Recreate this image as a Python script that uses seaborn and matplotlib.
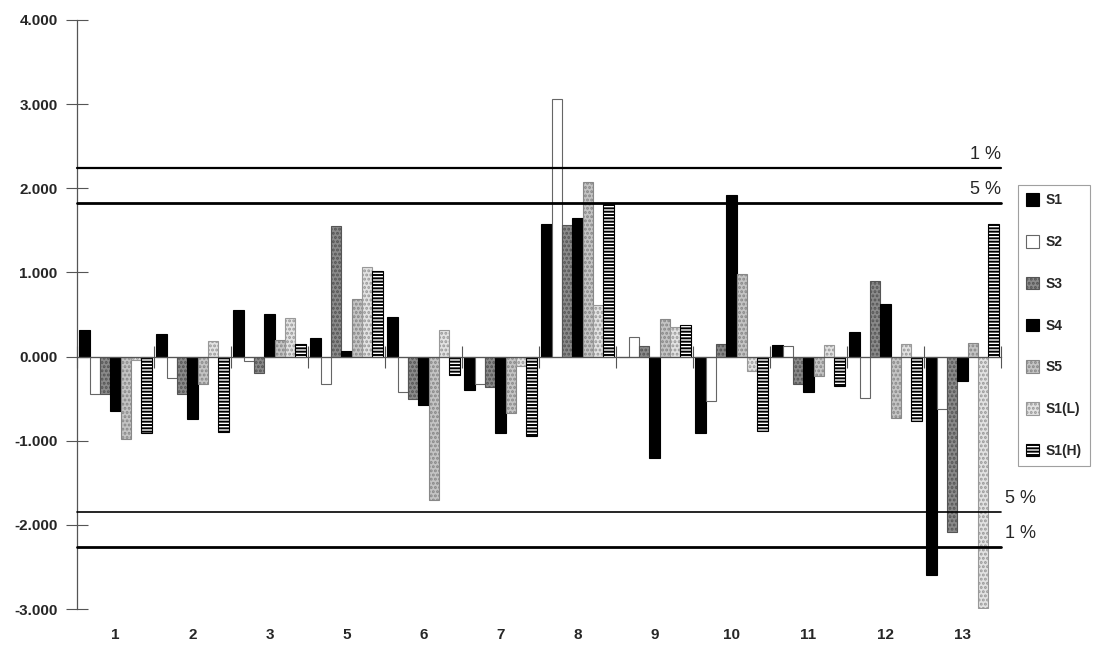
import numpy as np
import pandas as pd
import matplotlib
matplotlib.use('Agg')
import matplotlib.pyplot as plt
from matplotlib.patches import Patch
import seaborn as sns

# категории (группы) и ряды
groups = ['1', '2', '3', '5', '6', '7', '8', '9', '10', '11', '12', '13']
series = ['S1', 'S2', 'S3', 'S4', 'S5', 'S1(L)', 'S1(H)']

s1 = [0.31, 0.27, 0.55, 0.22, 0.47, -0.40, 1.57, 0.00, -0.91, 0.14, 0.29, -2.59]
s2 = [-0.44, -0.25, -0.05, -0.33, -0.42, -0.33, 3.06, 0.23, -0.53, 0.13, -0.49, -0.62]
s3 = [-0.45, -0.44, -0.19, 1.55, -0.50, -0.36, 1.56, 0.13, 0.15, -0.33, 0.90, -2.09]
s4 = [-0.65, -0.74, 0.51, 0.07, -0.58, -0.91, 1.65, -1.21, 1.92, -0.42, 0.63, -0.29]
s5 = [-0.98, -0.33, 0.20, 0.69, -1.70, -0.67, 2.08, 0.45, 0.98, -0.23, -0.73, 0.16]
s1_l = [-0.04, 0.18, 0.46, 1.06, 0.32, -0.11, 0.61, 0.35, -0.17, 0.14, 0.15, -2.99]
s1_h = [-0.91, -0.90, 0.15, 1.02, -0.22, -0.94, 1.81, 0.38, -0.89, -0.35, -0.77, 1.57]

# уровни значимости
upper_1, upper_5 = 2.24, 1.83
lower_5, lower_1 = -1.85, -2.26

values = [s1, s2, s3, s4, s5, s1_l, s1_h]
df = pd.DataFrame({
    'group': np.tile(groups, len(series)),
    'series': np.repeat(series, len(groups)),
    'value': np.concatenate(values),
})

face = ['#000000', '#ffffff', '#8a8a8a', '#000000', '#c4c4c4', '#e2e2e2', '#ffffff']
edge = ['#000000', '#666666', '#555555', '#000000', '#888888', '#999999', '#000000']
hatch = [None, None, '....', None, '....', '....', '-----']

sns.set_style('white')
plt.rcParams['font.family'] = ['Liberation Sans', 'DejaVu Sans']
plt.rcParams['hatch.linewidth'] = 1.4

fig = plt.figure(figsize=(10.97, 6.49), dpi=100)
ax = fig.add_axes([0.0702, 0.0616, 0.9125 - 0.0702, 0.9692 - 0.0616])

sns.barplot(data=df, x='group', y='value', hue='series', order=groups,
            hue_order=series, palette=face, saturation=1, width=0.94,
            gap=0, errorbar=None, legend=False, ax=ax)

for cont, fc, ec, h in zip(ax.containers, face, edge, hatch):
    for bar in cont:
        bar.set_facecolor(fc)
        bar.set_edgecolor(ec)
        bar.set_linewidth(0.8)
        if h:
            bar.set_hatch(h)

ax.set_ylim(-3, 4)
ax.set_xlim(-0.5, len(groups) - 0.5)
ax.set_xlabel('')
ax.set_ylabel('')

# линии уровней значимости
for y, lw in [(upper_1, 1.6), (upper_5, 2.0), (lower_5, 1.2), (lower_1, 2.0)]:
    ax.axhline(y, color='black', lw=lw, clip_on=False, zorder=5)

ax.text(len(groups) - 0.5, upper_1 + 0.06, '1 %', ha='right', va='bottom', fontsize=13)
ax.text(len(groups) - 0.5, upper_5 + 0.06, '5 %', ha='right', va='bottom', fontsize=13)
ax.text(len(groups) - 0.45, lower_5 + 0.06, '5 %', ha='left', va='bottom', fontsize=13)
ax.text(len(groups) - 0.45, lower_1 + 0.06, '1 %', ha='left', va='bottom', fontsize=13)

# оси
for side in ['top', 'right']:
    ax.spines[side].set_visible(False)
ax.spines['left'].set_color('#555555')
ax.spines['left'].set_linewidth(0.9)
ax.spines['bottom'].set_position(('data', 0))
ax.spines['bottom'].set_color('#555555')
ax.spines['bottom'].set_linewidth(0.9)

ax.set_yticks(np.arange(-3, 5, 1))
ax.set_yticklabels([f'{v:.3f}' for v in np.arange(-3, 5, 1)], fontsize=11,
                   fontweight='bold')
ax.tick_params(axis='y', left=True, direction='inout', length=16, width=0.8,
               color='#555555', pad=6)

ax.set_xticks(np.arange(-0.5, len(groups), 1))
ax.set_xticklabels([''] * (len(groups) + 1))
ax.tick_params(axis='x', bottom=True, direction='inout', length=16, width=0.8,
               color='#555555')

sec = ax.secondary_xaxis('bottom')
sec.set_xticks(range(len(groups)), labels=groups)
sec.tick_params(bottom=False, length=0, pad=14, labelsize=11)
for lab in sec.get_xticklabels():
    lab.set_fontweight('bold')
sec.spines['bottom'].set_visible(False)

# легенда
handles = [Patch(facecolor=fc, edgecolor=ec, hatch=h, linewidth=0.8)
           for fc, ec, h in zip(face, edge, hatch)]
leg = fig.legend(handles, series, loc='upper left', bbox_to_anchor=(0.928, 0.715),
                 borderaxespad=0, frameon=True, fancybox=False, edgecolor='#888888',
                 handlelength=0.9, handleheight=1.0, handletextpad=0.45,
                 labelspacing=2.0, borderpad=0.6,
                 prop={'size': 10, 'weight': 'bold'})
leg.get_frame().set_linewidth(0.8)

fig.savefig('out.png', dpi=100)
